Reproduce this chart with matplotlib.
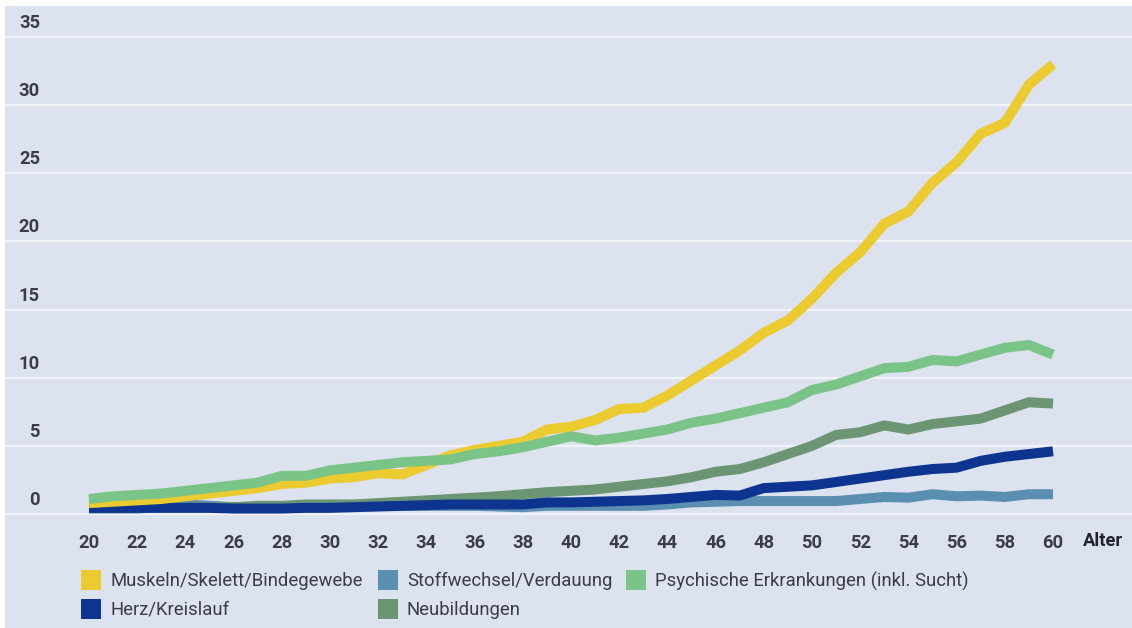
import numpy as np
import matplotlib
matplotlib.use("Agg")
import matplotlib.pyplot as plt
from matplotlib.patches import Rectangle
from matplotlib.transforms import blended_transform_factory, ScaledTranslation

plt.rcParams['font.family'] = ['Roboto', 'DejaVu Sans']

# Data
ages = list(range(20, 61))

muskeln = [0.8, 0.9, 1.0, 1.1, 1.3, 1.5, 1.7, 1.9, 2.2, 2.3,
           2.6, 2.7, 3.0, 2.9, 3.6, 4.3, 4.7, 5.0, 5.3, 6.2,
           6.4, 6.9, 7.7, 7.8, 8.7, 9.8, 10.9, 12.0, 13.3, 14.2,
           15.8, 17.7, 19.2, 21.3, 22.2, 24.3, 25.8, 27.9, 28.7, 31.5,
           33.0]
stoffwechsel = [0.4, 0.4, 0.4, 0.5, 0.7, 0.6, 0.5, 0.5, 0.5, 0.5,
                0.6, 0.6, 0.6, 0.6, 0.6, 0.6, 0.6, 0.55, 0.5, 0.6,
                0.6, 0.6, 0.6, 0.6, 0.7, 0.85, 0.9, 0.95, 0.95, 0.95,
                0.95, 0.95, 1.1, 1.25, 1.2, 1.45, 1.3, 1.35, 1.25, 1.45,
                1.45]
psychisch = [1.1, 1.3, 1.4, 1.5, 1.7, 1.9, 2.1, 2.3, 2.8, 2.8,
             3.2, 3.4, 3.6, 3.8, 3.9, 4.0, 4.4, 4.6, 4.9, 5.3,
             5.7, 5.4, 5.6, 5.9, 6.2, 6.7, 7.0, 7.4, 7.8, 8.2,
             9.1, 9.5, 10.1, 10.7, 10.8, 11.3, 11.2, 11.7, 12.2, 12.4,
             11.7]
herz = [0.45, 0.45, 0.45, 0.45, 0.45, 0.45, 0.4, 0.4, 0.4, 0.45,
        0.45, 0.5, 0.55, 0.6, 0.65, 0.7, 0.7, 0.7, 0.7, 0.85,
        0.85, 0.9, 0.95, 1.0, 1.1, 1.25, 1.4, 1.35, 1.9, 2.0,
        2.1, 2.35, 2.6, 2.85, 3.1, 3.3, 3.4, 3.9, 4.2, 4.4,
        4.6]
neubildungen = [0.5, 0.5, 0.5, 0.5, 0.5, 0.5, 0.5, 0.6, 0.6, 0.7,
                0.7, 0.7, 0.8, 0.9, 1.0, 1.1, 1.2, 1.3, 1.45, 1.6,
                1.7, 1.8, 2.0, 2.2, 2.4, 2.7, 3.1, 3.3, 3.8, 4.4,
                5.0, 5.8, 6.0, 6.5, 6.2, 6.6, 6.8, 7.0, 7.6, 8.2,
                8.1]

labels = ["Muskeln/Skelett/Bindegewebe", "Stoffwechsel/Verdauung",
          "Psychische Erkrankungen (inkl. Sucht)", "Herz/Kreislauf", "Neubildungen"]
colors = ["#ebcb2f", "#5a8fb1", "#7bc487", "#0d3590", "#6c9673"]
series = [muskeln, stoffwechsel, psychisch, herz, neubildungen]
zorders = [4, 1, 5, 3, 2]

y_ticks = [0, 5, 10, 15, 20, 25, 30, 35]
x_ticks = list(range(20, 61, 2))

W, H = 1132, 628
panel = "#dce2ee"
text_col = "#3c3c48"

fig = plt.figure(figsize=(W / 100, H / 100), dpi=100)
fig.patch.set_facecolor("white")
fig.add_artist(Rectangle((5 / W, 0), 1, (H - 6) / H, transform=fig.transFigure,
                         facecolor=panel, edgecolor="none", zorder=0))

# axes placed so that age 20 -> px 89, age 60 -> px 1053, value 0 -> px 514
ax = fig.add_axes([5 / W, (H - 522) / H, (W - 5) / W, (522 - 6) / H])
ax.set_facecolor("none")
px_per_age = (1053 - 89) / 40
px_per_val = (514 - 37) / 35
ax.set_xlim(20 + (5 - 89) / px_per_age, 20 + (W - 89) / px_per_age)
ax.set_ylim((514 - 522) / px_per_val, (514 - 6) / px_per_val)

for vals, col, lab, z in zip(series, colors, labels, zorders):
    ax.plot(ages, vals, color=col, lw=7.2, solid_capstyle="butt",
            solid_joinstyle="miter", label=lab, zorder=z)

ax.set_yticks(y_ticks)
ax.yaxis.grid(True, color="#f0f3f8", lw=1.6)
ax.set_axisbelow(True)
ax.tick_params(axis="y", length=0, labelleft=False)
for s in ax.spines.values():
    s.set_visible(False)

ax.set_xticks(x_ticks)
ax.set_xticklabels([str(a) for a in x_ticks])
ax.tick_params(axis="x", length=0, pad=9, labelsize=13.2, labelcolor=text_col)
for t in ax.get_xticklabels():
    t.set_fontweight("bold")

# y tick labels sit above their gridline
trans = blended_transform_factory(ax.transAxes, ax.transData) + \
    ScaledTranslation(0, 5 / 100, fig.dpi_scale_trans)
for v in y_ticks:
    ax.text((40 - 5) / (W - 5), v, str(v), transform=trans, ha="right", va="bottom",
            fontsize=13.2, fontweight="bold", color=text_col)

fig.text(1083 / W, 1 - 541 / H, "Alter", ha="left", va="center", fontsize=13.2,
         fontweight="bold", color="#222230")

# legend
leg_pos = [(81, 580), (378, 580), (626, 580), (81, 609), (378, 609)]
for (px, py), col, lab in zip(leg_pos, colors, labels):
    fig.add_artist(Rectangle((px / W, 1 - (py + 10) / H), 20 / W, 20 / H,
                             transform=fig.transFigure, facecolor=col, edgecolor="none"))
    fig.text((px + 29) / W, 1 - (py + 1) / H, lab, ha="left", va="center", fontsize=13.3,
             color=text_col)

fig.savefig("out.png", dpi=100, facecolor=fig.get_facecolor())
